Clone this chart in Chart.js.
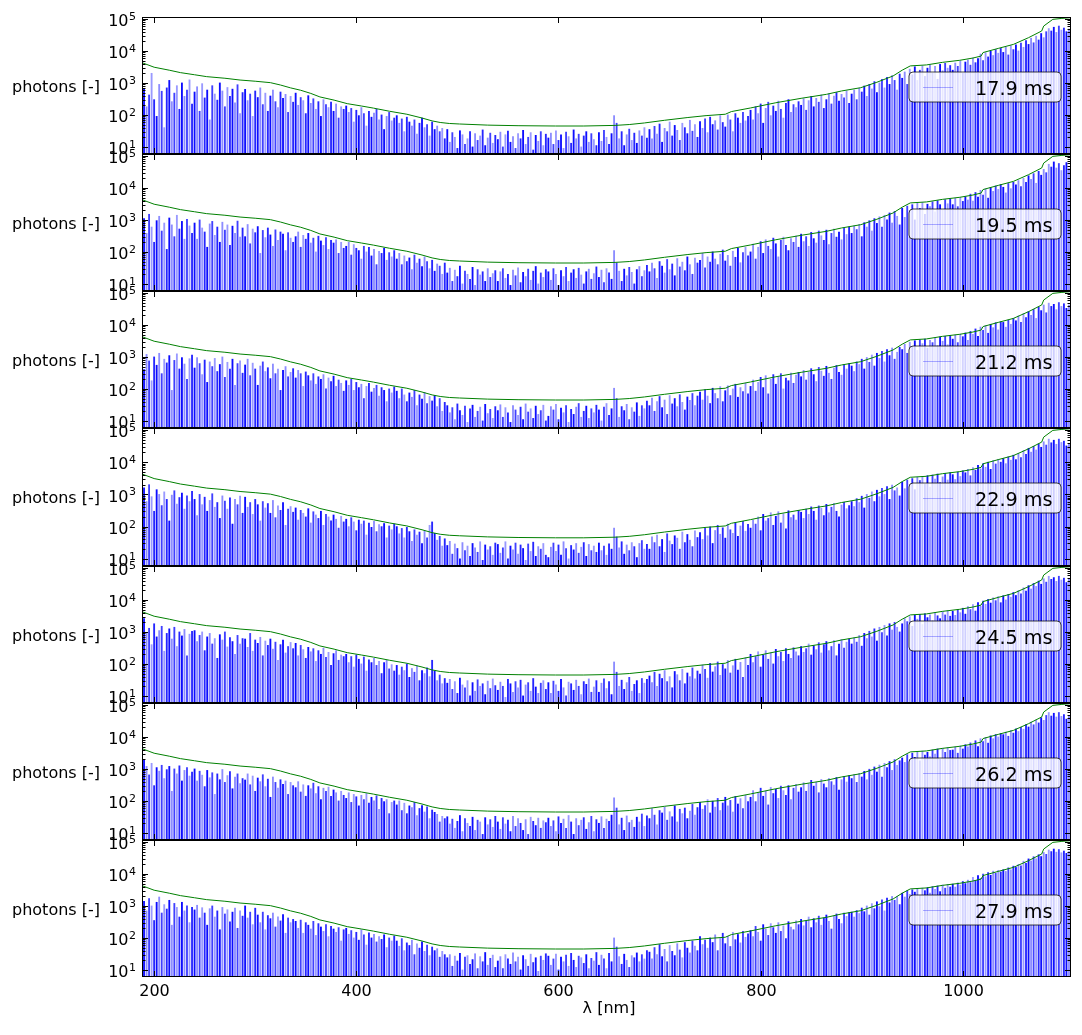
<!DOCTYPE html>
<html>
<head>
<meta charset="utf-8">
<script src="https://cdn.jsdelivr.net/npm/chart.js@4.4.1/dist/chart.umd.min.js"></script>
<style>
  body { margin: 0; background: #fff; }
  #wrap { position: relative; width: 1082px; height: 1035px; overflow: hidden; }
  #wrap canvas { position: absolute; left: 0; }
</style>
</head>
<body>
<div id="wrap"></div>
<script>
// wavelength grid of the spectra [nm]
const lambda = [
  190,192.5,195,197.5,200,202.5,205,207.5,210,212.5,215,217.5,220,222.5,225,227.5,230,232.5,235,237.5,
  240,242.5,245,247.5,250,252.5,255,257.5,260,262.5,265,267.5,270,272.5,275,277.5,280,282.5,285,287.5,
  290,292.5,295,297.5,300,302.5,305,307.5,310,312.5,315,317.5,320,322.5,325,327.5,330,332.5,335,337.5,
  340,342.5,345,347.5,350,352.5,355,357.5,360,362.5,365,367.5,370,372.5,375,377.5,380,382.5,385,387.5,
  390,392.5,395,397.5,400,402.5,405,407.5,410,412.5,415,417.5,420,422.5,425,427.5,430,432.5,435,437.5,
  440,442.5,445,447.5,450,452.5,455,457.5,460,462.5,465,467.5,470,472.5,475,477.5,480,482.5,485,487.5,
  490,492.5,495,497.5,500,502.5,505,507.5,510,512.5,515,517.5,520,522.5,525,527.5,530,532.5,535,537.5,
  540,542.5,545,547.5,550,552.5,555,557.5,560,562.5,565,567.5,570,572.5,575,577.5,580,582.5,585,587.5,
  590,592.5,595,597.5,600,602.5,605,607.5,610,612.5,615,617.5,620,622.5,625,627.5,630,632.5,635,637.5,
  640,642.5,645,647.5,650,652.5,655,657.5,660,662.5,665,667.5,670,672.5,675,677.5,680,682.5,685,687.5,
  690,692.5,695,697.5,700,702.5,705,707.5,710,712.5,715,717.5,720,722.5,725,727.5,730,732.5,735,737.5,
  740,742.5,745,747.5,750,752.5,755,757.5,760,762.5,765,767.5,770,772.5,775,777.5,780,782.5,785,787.5,
  790,792.5,795,797.5,800,802.5,805,807.5,810,812.5,815,817.5,820,822.5,825,827.5,830,832.5,835,837.5,
  840,842.5,845,847.5,850,852.5,855,857.5,860,862.5,865,867.5,870,872.5,875,877.5,880,882.5,885,887.5,
  890,892.5,895,897.5,900,902.5,905,907.5,910,912.5,915,917.5,920,922.5,925,927.5,930,932.5,935,937.5,
  940,942.5,945,947.5,950,952.5,955,957.5,960,962.5,965,967.5,970,972.5,975,977.5,980,982.5,985,987.5,
  990,992.5,995,997.5,1000,1002.5,1005,1007.5,1010,1012.5,1015,1017.5,1020,1022.5,1025,1027.5,1030,1032.5,1035,1037.5,
  1040,1042.5,1045,1047.5,1050,1052.5,1055,1057.5,1060,1062.5,1065,1067.5,1070,1072.5,1075,1077.5,1080,1082.5,1085,1087.5,
  1090,1092.5,1095,1097.5,1100,1102.5,1105
];

// exposure times, one per panel
const exposures = ['17.9 ms', '19.5 ms', '21.2 ms', '22.9 ms', '24.5 ms', '26.2 ms', '27.9 ms'];

// photon counts per panel (rows of 50 nm)
const photons179 = [
  650,180,420,2000,300,90,900,550,40,700,1200,260,480,820,150,1000,380,600,1250,220,
  520,760,130,950,340,600,70,820,450,290,1000,560,180,720,380,640,240,880,110,500,
  630,280,450,90,560,350,700,210,480,130,390,600,260,170,520,330,440,120,380,250,
  480,200,350,280,110,400,230,320,150,260,90,300,210,170,250,130,220,80,180,150,
  190,120,160,60,140,95,170,110,45,130,85,115,150,70,100,35,90,120,65,80,
  95,55,75,30,85,60,45,70,25,55,80,40,50,22,60,35,45,30,38,18,
  35,14,28,20,9,32,24,12,18,30,10,26,16,22,34,11,19,27,13,23,
  17,29,10,24,31,14,21,9,26,18,33,12,20,28,8,23,15,30,11,25,
  19,27,12,32,16,24,9,29,21,13,34,18,25,10,22,30,14,26,17,11,
  28,15,33,20,12,26,95,55,18,30,11,24,36,16,27,13,32,22,40,19,
  35,18,44,25,52,14,38,30,60,22,47,33,16,55,40,26,68,31,50,20,
  62,38,75,28,85,50,66,34,95,58,42,100,70,30,110,80,55,120,65,90,
  140,70,180,110,220,55,160,250,95,190,130,270,150,80,230,300,120,210,170,260,
  200,320,140,280,380,180,330,250,420,160,300,460,220,390,500,270,440,340,560,230,
  450,600,300,680,520,800,380,900,650,1100,500,1000,1300,700,1500,900,1700,1200,600,1900,
  1400,2200,900,2700,1800,3200,1200,2500,3400,1600,2900,3600,2000,3300,1300,3800,2400,4100,2900,3500,
  2500,4200,3300,4800,2000,4500,5200,3600,6000,4300,5800,8000,5000,8800,6500,9800,7200,11000,8500,12000,
  9000,13000,7500,14500,11000,15500,10000,17500,13000,21000,16000,25000,18000,29000,22000,35000,26000,40000,50000,42000,
  55000,38000,60000,45000,52000,40000,48000
];
const photons195 = [
  1100,380,1500,600,200,950,1300,450,800,120,1150,700,300,1400,520,900,250,1050,650,380,
  800,250,1000,560,420,140,750,900,330,600,200,850,480,700,160,640,380,920,290,560,
  300,720,180,520,400,620,90,470,280,560,340,150,490,230,420,360,110,400,270,200,
  300,420,140,330,250,380,190,270,100,310,220,160,280,120,230,190,240,90,200,130,
  150,200,80,170,130,110,60,150,100,140,75,120,40,105,90,130,55,95,70,110,
  60,90,40,75,50,65,28,80,45,60,35,70,50,30,55,25,42,36,20,45,
  22,31,12,27,17,36,10,25,20,14,33,9,28,19,24,12,30,16,21,26,
  12,24,30,15,20,9,27,18,32,11,23,17,29,13,25,35,10,22,16,28,
  24,13,30,20,9,26,17,33,12,22,28,15,31,19,10,24,29,14,21,34,
  16,27,11,30,22,14,110,45,25,12,29,18,33,23,10,28,35,17,26,38,
  24,45,30,15,50,36,22,58,28,42,18,62,34,48,26,70,40,20,64,45,
  55,90,32,70,48,100,60,40,85,115,52,78,36,105,68,130,46,95,140,75,
  100,175,60,140,210,90,240,150,120,270,180,70,230,290,160,110,260,200,310,140,
  360,210,300,150,410,260,190,450,320,230,480,170,380,520,290,420,240,560,350,600,
  380,640,500,720,300,820,600,950,450,1100,780,1250,600,1400,1000,1650,800,1850,1300,700,
  2300,1200,2700,1900,3000,1000,3300,2300,3500,1500,3100,2600,3700,1800,4000,3000,2000,4300,3200,4600,
  3000,4700,2600,5000,3800,5300,4200,6400,3900,7200,5200,8400,6000,9300,4800,10200,7800,11500,9000,12800,
  10500,7000,13800,9500,15000,12500,17000,11000,20000,15000,24000,18500,28000,14000,33000,25000,38000,30000,55000,45000,
  65000,42000,58000,35000,50000,62000,40000
];
const photons212 = [
  400,1200,750,180,1000,550,1300,300,850,650,1100,90,780,1250,420,950,600,200,880,1150,
  450,950,620,280,800,160,700,500,900,350,580,1000,230,680,420,850,130,620,760,310,
  560,850,260,640,420,130,520,700,350,460,210,600,300,420,90,380,500,240,330,430,
  220,380,300,120,340,260,180,300,140,240,200,280,100,220,170,250,120,190,150,85,
  180,130,200,90,160,110,140,50,120,150,80,105,130,60,110,90,40,100,75,115,
  85,50,100,65,40,75,55,90,30,65,48,78,35,58,42,62,28,50,20,38,
  30,18,26,11,34,21,15,29,9,24,31,13,20,27,10,33,17,23,12,28,
  21,32,13,26,18,9,30,22,15,27,11,34,19,24,12,29,16,21,31,10,
  14,28,22,33,11,25,18,30,9,23,16,27,35,13,20,29,12,24,18,31,
  22,10,27,35,15,24,105,50,13,28,21,33,11,26,19,37,14,30,24,42,
  30,52,20,40,58,26,45,16,62,34,50,28,66,38,22,56,44,72,30,60,
  80,45,95,60,35,105,72,50,118,40,88,125,62,100,140,55,110,82,150,70,
  120,190,85,160,230,110,260,70,200,280,140,240,300,100,220,180,310,150,270,330,
  240,380,190,330,430,280,170,470,360,250,510,310,200,450,540,330,270,580,420,620,
  520,350,700,580,850,420,960,680,1150,520,1300,900,1500,700,1700,1100,1900,850,1400,2000,
  1700,2500,1300,2900,2100,3200,1600,3400,2600,3600,1900,3300,2800,3900,2200,4200,3100,4400,2400,4700,
  3600,4800,2800,5100,4300,5600,3300,6300,5100,7500,4400,8600,6800,9500,5500,10500,8200,11800,7000,12500,
  12000,8500,14000,10500,16000,13500,19000,12000,22500,17000,26000,20000,30500,16000,36000,28000,42000,24000,48000,38000,
  44000,30000,50000,38000,46000,33000,42000
];
const photons229 = [
  1600,600,2000,850,300,1400,1000,450,1200,700,150,950,1300,500,800,1100,350,900,600,1250,
  700,220,1000,480,820,300,650,1050,400,560,180,900,620,350,780,120,700,480,880,260,
  820,400,560,240,700,480,150,600,380,520,260,650,190,440,320,560,110,350,420,280,
  380,160,320,260,200,360,130,290,230,180,300,110,240,200,150,230,170,90,210,140,
  170,100,190,140,75,160,120,150,55,130,95,145,70,115,100,125,45,105,80,120,
  100,60,88,45,95,70,35,80,55,68,30,75,45,110,140,62,38,50,25,42,
  26,35,14,29,21,10,32,18,25,12,30,22,16,34,9,27,19,24,13,31,
  28,15,22,34,10,25,19,31,14,27,21,9,29,17,33,12,24,20,30,13,
  11,23,31,17,27,13,34,21,10,26,19,30,15,23,32,12,28,18,25,16,
  31,18,25,13,29,20,90,48,22,34,14,27,18,32,24,11,30,37,20,28,
  20,48,32,55,24,40,16,60,36,28,52,44,20,68,32,57,38,24,74,46,
  65,40,88,52,98,30,76,110,58,92,44,120,80,62,132,50,105,145,72,118,
  90,160,120,200,75,240,150,180,270,110,210,290,130,250,85,310,190,230,160,320,
  280,180,350,240,410,300,160,440,370,220,490,270,400,530,300,200,470,570,360,450,
  600,420,740,560,880,380,1000,760,1200,600,1350,850,1550,1000,1750,700,1950,1300,1600,900,
  2400,1500,2800,2000,3100,1400,3400,2700,3600,2100,3800,1700,4000,3000,4300,2300,3500,4500,2800,4700,
  4100,2900,4900,3600,5400,4700,6000,3800,6800,5600,8000,6200,9000,7000,10000,6000,11200,8800,12300,10000,
  13000,9000,14500,11500,16500,12000,18500,14000,23000,17500,27000,20500,31000,24000,37000,29000,43000,34000,52000,40000,
  48000,36000,52000,41000,45000,32000,38000
];
const photons245 = [
  2600,900,1300,400,1800,700,1100,1500,250,900,1250,600,1400,350,1000,750,1200,180,850,1050,
  1100,500,780,1000,260,700,900,420,620,150,820,560,1000,340,660,500,200,780,420,620,
  600,330,900,250,560,440,680,180,520,380,600,290,480,130,400,560,220,350,470,300,
  440,180,380,280,150,330,240,300,120,260,200,310,160,230,90,210,260,130,190,170,
  200,110,170,80,190,140,100,165,60,135,110,150,90,120,50,110,130,70,95,60,
  90,45,80,62,100,38,72,55,85,30,62,50,75,40,130,60,30,45,24,35,
  25,33,16,28,12,36,22,18,30,10,26,14,32,20,24,11,29,17,34,21,
  15,27,20,9,33,24,13,28,18,31,10,22,26,14,35,19,12,25,30,16,
  26,12,29,22,14,33,18,10,27,24,15,31,20,11,28,23,34,13,19,30,
  13,25,34,17,28,11,115,55,20,31,16,26,38,14,23,30,12,35,25,33,
  42,26,55,20,48,35,62,28,40,18,58,46,30,68,24,52,40,75,34,60,
  48,92,68,36,104,56,82,115,44,96,70,128,52,88,140,64,112,38,155,90,
  200,110,170,240,80,190,260,140,220,100,285,170,230,120,300,200,150,320,240,180,
  350,230,300,420,190,370,280,460,220,400,500,260,350,540,180,420,580,310,480,600,
  420,650,480,780,360,900,620,1050,700,1250,520,1400,950,1600,750,1800,1150,2000,1400,1000,
  1800,2600,2100,3000,1500,3300,2500,3500,1700,3700,2800,3400,2200,4000,3200,2600,4300,3400,4600,3100,
  4400,3300,5000,4000,5500,3600,6200,5000,7200,4500,8300,6400,9200,7300,10400,8000,11600,9500,12700,8200,
  13500,10000,15000,12200,17200,13800,19500,15600,24000,19000,28000,22000,33000,26500,39000,31000,46000,36000,55000,44000,
  50000,38000,55000,42000,48000,35000,44000
];
const photons262 = [
  1900,1200,650,1500,300,1100,850,1300,500,950,1200,200,1000,700,1250,420,900,1100,600,800,
  1000,420,850,640,280,900,530,760,160,700,460,960,380,620,820,240,560,700,350,500,
  450,700,320,600,200,520,400,660,280,480,130,560,380,250,460,330,420,160,380,300,
  260,400,190,320,140,300,240,360,170,280,110,250,200,270,140,220,180,100,200,150,
  120,180,90,160,135,70,150,110,170,85,130,100,145,55,120,95,110,40,90,100,
  75,100,50,85,40,70,62,90,35,58,72,45,65,28,52,44,38,22,33,28,
  32,19,27,14,23,35,11,28,20,16,31,12,25,22,9,30,18,26,15,33,
  22,13,30,19,25,11,33,16,28,20,12,26,9,31,23,17,29,14,24,21,
  29,16,24,11,32,20,27,14,35,22,9,28,17,25,30,13,21,33,11,26,
  20,32,14,27,23,36,125,60,18,29,12,34,21,25,15,31,22,39,16,34,
  28,58,36,18,50,42,64,25,46,32,70,22,55,40,60,28,48,78,36,62,
  90,55,72,110,42,98,64,120,50,86,130,70,104,45,138,80,118,58,150,96,
  130,210,95,180,250,140,200,75,265,170,230,120,290,210,150,300,110,250,330,190,
  260,370,200,340,440,290,380,180,470,340,260,500,400,310,540,220,460,580,390,620,
  500,660,380,720,560,840,460,980,640,1150,800,1320,560,1500,1100,1700,900,1950,1300,1800,
  2200,1600,2800,1900,3100,2300,3400,1800,3600,2700,3300,2400,3900,2900,4200,2000,4400,3300,4600,3800,
  3900,4800,3100,5200,4200,5700,4900,6500,5600,7600,5000,8800,7100,9700,6400,10800,8800,12000,10000,12800,
  11800,14200,10500,16000,13200,17800,14800,20000,17500,24500,20500,29000,24000,34000,27500,40000,33000,47000,58000,45000,
  55000,42000,58000,44000,50000,36000,46000
];
const photons279 = [
  1400,700,1700,1000,350,1300,1900,600,1100,800,1500,250,1200,900,450,1300,700,1000,300,900,
  750,1050,420,880,600,250,820,1000,450,700,180,900,560,760,320,640,860,200,700,480,
  1000,420,640,260,850,520,300,640,180,500,400,600,220,460,340,540,140,420,300,380,
  330,200,360,140,300,250,190,330,120,280,220,160,260,110,230,190,150,210,80,180,
  200,130,170,100,150,85,180,125,60,145,100,130,75,110,90,125,50,100,80,115,
  80,55,95,40,70,58,85,30,65,48,75,38,60,28,52,40,46,25,38,30,
  24,30,13,27,19,33,10,25,28,15,21,32,11,26,18,35,14,23,29,12,
  19,26,11,30,22,15,34,18,25,10,28,21,13,31,17,24,9,27,20,32,
  27,14,22,31,10,25,18,29,13,33,20,12,27,24,16,30,11,23,19,35,
  14,29,22,11,33,18,100,52,26,15,31,20,12,28,24,34,18,30,22,40,
  36,22,50,30,62,26,44,18,58,38,28,66,42,24,72,48,34,80,56,40,
  110,62,85,48,100,72,125,40,96,140,66,112,54,150,88,128,70,160,105,135,
  170,110,230,150,80,260,190,120,280,210,140,300,160,240,95,320,220,180,340,260,
  380,240,330,450,210,400,300,480,250,420,520,330,190,480,560,380,280,600,470,620,
  640,450,720,580,860,660,1000,520,1180,820,1350,950,1550,700,1750,1250,1980,1500,2000,1100,
  2500,1900,3000,2300,3200,2700,3500,2100,3600,3000,3700,2500,4000,3300,4200,2800,4500,3600,4700,3900,
  4800,3900,5200,4500,5800,5000,6400,5400,7800,6200,8900,7300,9900,8200,11000,9100,12200,10500,13000,11500,
  13500,12000,15500,13500,17500,16000,19800,18000,25000,21500,29500,25500,34500,30000,40000,35000,47000,41000,56000,50000,
  60000,48000,58000,46000,52000,44000,50000
];
const panels = [photons179, photons195, photons212, photons229, photons245, photons262, photons279];

// upper (green) curve, same in every panel
const limitNm = [188,200,215,226,240,252,270,285,300,315,325,335,345,355,364,378,391,405,417,433,450,465,475,483,492,502,
  530,560,597,625,656,670,685,705,728,746,765,771,790,815,840,865,880,899,915,931,940,948,964,980,997,1010,1018,1020,
  1035,1050,1065,1078,1080,1089,1098,1107];
const limitVal = [4300,3100,2500,2100,1800,1570,1400,1230,1130,1020,860,700,590,470,365,290,225,190,163,130,105,80,65,58,54,52,
  48,46,45,45,47,50,56,68,83,95,105,127,165,240,330,440,560,710,1050,1650,2500,3400,3650,4400,5100,6000,6900,8900,
  12000,16000,26000,42000,60000,97000,104000,110000];

const xTicks = [200, 400, 600, 800, 1000];
const yDecades = [1, 2, 3, 4, 5];

// panel edges on the page (px)
const edges = [17, 154, 291, 428, 566, 703, 840, 977];
const FONT = "'DejaVu Sans', sans-serif";
const shades = ['rgba(0,0,255,0.95)', 'rgba(0,0,255,0.45)', 'rgba(0,0,255,0.75)', 'rgba(0,0,255,0.4)', 'rgba(0,0,255,0.85)'];

function line(ctx, x1, y1, x2, y2) {
  ctx.beginPath(); ctx.moveTo(x1, y1); ctx.lineTo(x2, y2); ctx.stroke();
}

// frame, inward ticks, tick labels and legend, matplotlib style
const panelDeco = {
  id: 'panelDeco',
  afterDraw(chart, args, opts) {
    const { ctx, chartArea: a } = chart;
    const x = chart.scales.x, y = chart.scales.y;
    ctx.save();

    // legend box
    const lx = 909, ly = a.top + 55, lw = 152, lh = 30, r = 4;
    ctx.beginPath();
    ctx.moveTo(lx + r, ly);
    ctx.arcTo(lx + lw, ly, lx + lw, ly + lh, r);
    ctx.arcTo(lx + lw, ly + lh, lx, ly + lh, r);
    ctx.arcTo(lx, ly + lh, lx, ly, r);
    ctx.arcTo(lx, ly, lx + lw, ly, r);
    ctx.closePath();
    ctx.fillStyle = 'rgba(255,255,255,0.8)';
    ctx.fill();
    ctx.strokeStyle = 'rgba(0,0,0,0.75)';
    ctx.lineWidth = 1;
    ctx.stroke();
    ctx.strokeStyle = 'rgba(0,0,255,0.3)';
    line(ctx, 923, ly + 15.5, 953, ly + 15.5);
    ctx.fillStyle = '#000';
    ctx.font = '19.2px ' + FONT;
    ctx.textAlign = 'left';
    ctx.textBaseline = 'alphabetic';
    ctx.fillText(opts.label, 975, ly + 23);

    // frame
    ctx.strokeStyle = '#000';
    ctx.lineWidth = 1;
    ctx.strokeRect(a.left + 0.5, a.top + 0.5, a.right - a.left - 1, a.bottom - a.top - 1);

    // x ticks
    ctx.font = '16px ' + FONT;
    ctx.textAlign = 'center';
    xTicks.forEach(v => {
      const px = Math.round(x.getPixelForValue(v)) + 0.5;
      line(ctx, px, a.top, px, a.top + 6);
      line(ctx, px, a.bottom, px, a.bottom - 6);
      if (opts.showX) ctx.fillText(String(v), px, a.bottom + 19);
    });

    // y ticks (log, with minors)
    yDecades.forEach(e => {
      for (let k = 1; k <= 9; k++) {
        const v = k * Math.pow(10, e);
        if (v < y.min || v > y.max) continue;
        const py = Math.round(y.getPixelForValue(v)) + 0.5;
        const len = k === 1 ? 6 : 3.5;
        line(ctx, a.left, py, a.left + len, py);
        line(ctx, a.right, py, a.right - len, py);
      }
    });
    ctx.textAlign = 'right';
    yDecades.forEach(e => {
      const v = Math.pow(10, e);
      if (v < y.min || v > y.max) return;
      const py = y.getPixelForValue(v);
      ctx.font = '11px ' + FONT;
      const ew = ctx.measureText(String(e)).width;
      ctx.fillText(String(e), 136, py + 1);
      ctx.font = '16px ' + FONT;
      ctx.fillText('10', 136 - ew - 0.5, py + 7.3);
    });

    // axis titles
    ctx.font = '16px ' + FONT;
    ctx.fillText('photons [-]', 100, a.top + 74.5);
    if (opts.showX) {
      ctx.textAlign = 'center';
      ctx.fillText('\u03bb [nm]', 609, a.bottom + 36);
    }
    ctx.restore();
  }
};

const wrap = document.getElementById('wrap');
panels.forEach((vals, i) => {
  if (vals.length !== lambda.length) console.error('panel ' + i + ': ' + vals.length + ' values');
  const last = i === panels.length - 1;
  const padTop = 12, padBottom = last ? 58 : 8;
  const h = edges[i + 1] - edges[i] + padTop + padBottom;
  const cv = document.createElement('canvas');
  cv.width = 1082; cv.height = h;
  cv.style.width = '1082px'; cv.style.height = h + 'px';
  cv.style.top = (edges[i] - padTop) + 'px';
  wrap.appendChild(cv);

  new Chart(cv, {
    type: 'bar',
    data: {
      datasets: [{
        type: 'line',
        label: 'limit',
        data: limitNm.map((nm, j) => ({ x: nm, y: limitVal[j] })),
        borderColor: '#008000',
        borderWidth: 1,
        pointRadius: 0,
        tension: 0,
        fill: false,
        order: 0
      }, {
        type: 'bar',
        label: exposures[i],
        data: lambda.map((nm, j) => ({ x: nm, y: vals[j] })),
        backgroundColor: ctx => shades[ctx.dataIndex % shades.length],
        borderWidth: 0,
        barThickness: 1.2,
        order: 1
      }]
    },
    options: {
      responsive: false,
      animation: false,
      devicePixelRatio: 1,
      events: [],
      layout: { padding: { left: 142, right: 11, top: padTop, bottom: padBottom } },
      plugins: {
        legend: { display: false },
        tooltip: { enabled: false },
        panelDeco: { label: exposures[i], showX: last }
      },
      scales: {
        x: { type: 'linear', min: 188, max: 1107, offset: false, display: false },
        y: { type: 'logarithmic', min: 6, max: 115000, display: false }
      }
    },
    plugins: [panelDeco]
  });
});
</script>
</body>
</html>
